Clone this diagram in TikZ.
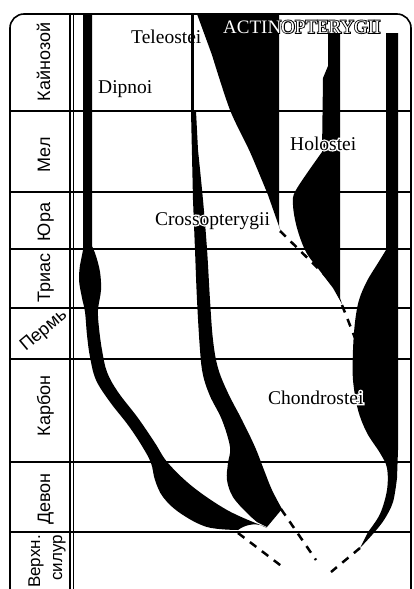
\documentclass[tikz,border=0pt]{standalone}
\usepackage{fontspec}
\setmainfont{Liberation Serif}
\newfontfamily\erafont{Liberation Sans}
\newfontfamily\halofont{Liberation Serif}[FakeBold=14]
\newfontfamily\rimfont{Liberation Serif}[FakeBold=9]
\usepackage{xcolor}
\usepackage{tikz}

\tikzset{
  grid line/.style={black, line width=1.6pt},
  lineage/.style={black, line width=2.5pt, dash pattern=on 8pt off 7pt},
  era/.style={font=\erafont\fontsize{18}{20}\selectfont, inner sep=0pt},
  taxname/.style={font=\fontsize{19.5}{22}\selectfont, anchor=base west, inner sep=0pt},
  halo/.style={taxname, text=white, font=\halofont\fontsize{19.5}{22}\selectfont},
}

\begin{document}
\begin{tikzpicture}[x=1pt, y=-1pt]
\fill[white] (0,0) rectangle (414,589);
\useasboundingbox (0,0) rectangle (414,589);

\coordinate (teleo tip) at (280,231);
\coordinate (holo side) at (331,281);
\coordinate (holo tip) at (342,305);
\coordinate (chondro side) at (355,338);
\coordinate (chondro tail) at (360,548);
\coordinate (cross side) at (281,509);
\coordinate (dipno base) at (238,533);
\coordinate (root a) at (284,568);
\coordinate (root b) at (316,560);
\coordinate (root c) at (331,572);

% time scale
\foreach \y in {111,192,249,308,359,462,532}{
    \draw[grid line] (10,\y) -- (411,\y);
}
\draw[grid line, rounded corners=14pt] (10,589) -- (10,14) -- (411,14) -- (411,589);
\draw[line width=1.2pt] (70,14) -- (70,589);
\draw[line width=1pt] (73,14) -- (73,589);

\node[era, rotate=90, anchor=base] (kainozoi) at (50,62) {Кайнозой};
\node[era, rotate=90, anchor=base] (mel) at (50,155) {Мел};
\node[era, rotate=90, anchor=base] (jura) at (50,222) {Юра};
\node[era, rotate=90, anchor=base] (trias) at (50,278) {Триас};
\node[era, rotate=40] (perm) at (44,331) {Пермь};
\node[era, rotate=90, anchor=base] (karbon) at (50,406) {Карбон};
\node[era, rotate=90, anchor=base] (devon) at (50,499) {Девон};
\node[era, font=\erafont\fontsize{17}{19}\selectfont, rotate=90, anchor=base east] (silur a) at (40,535) {Верхн.};
\node[era, font=\erafont\fontsize{17}{19}\selectfont, rotate=90, anchor=base east] (silur b) at (62,535) {силур};

% Dipnoi
\fill (83,14) -- (83,250) -- plot[smooth, tension=0.6] coordinates {(80,265) (79,280) (82,298) (85,312) (87,335) (90,357) (96,380) (110,402) (128,425) (142,446) (151,463) (155,480) (163,497) (180,513) (207,527) (238,530)}
    .. controls (246,524) and (258,522) .. (267,528)
    -- plot[smooth, tension=0.6] coordinates {(258,524) (227,510) (193,487) (168,463) (155,443) (138,418) (118,392) (107,372) (102,350) (99,328) (98,310) (101,290) (100,272) (96,256) (92,246)}
    -- (92,14) -- cycle;

% Crossopterygii
\draw[line width=3pt] (192,14) -- (192,112);
\fill (191,111) -- (196,111) -- plot[smooth, tension=0.6] coordinates {(198,150) (203,200) (207,249) (210,300) (213,340) (218,368) (228,393) (242,420) (255,447) (264,470) (272,490) (282,509)}
    -- (267,527) -- plot[smooth, tension=0.6] coordinates {(257,522) (247,513) (233,497) (227,480) (228,463) (230,447) (222,420) (210,396) (203,375) (200,350) (197,300) (195,250) (193,200)}
    -- cycle;

% Teleostei
\fill (197,14) -- (279,14) -- (279,226) -- (281,232) -- plot[smooth, tension=0.5] coordinates {(268,195) (250,152) (230,110) (212,55)} -- cycle;

% Holostei
\fill (328,33) -- (340,33) -- (340,298) -- (342,304) -- plot[smooth, tension=0.55] coordinates {(333,288) (320,271) (306,252) (297,228) (293,205) (296,190) (322,152)} -- (323,78) -- (328,66) -- cycle;

% Chondrostei
\fill (386,33) -- (398,33) -- (398,450) -- plot[smooth, tension=0.55] coordinates {(397,478) (393,502) (384,520) (372,535) (360,548)}
    -- plot[smooth, tension=0.55] coordinates {(368,532) (380,514) (387,490) (387,468) (380,453) (367,433) (358,410) (353,380) (353,350) (355,322) (359,300) (367,281) (378,263) (386,250)}
    -- cycle;

\draw[lineage] (teleo tip) -- (holo side);
\draw[lineage] (holo tip) -- (chondro side);
\draw[lineage] (dipno base) -- (root a);
\draw[lineage] (cross side) -- (root b);
\draw[lineage] (chondro tail) -- (root c);

\node[taxname] (teleostei) at (131,43) {Teleostei};
\node[taxname] (dipnoi) at (98,93) {Dipnoi};
\node[halo] (holostei halo) at (290,150) {Holostei};
\node[taxname] (holostei) at (290,150) {Holostei};
\node[halo] (crosso halo) at (155,225) {Crossopterygii};
\node[taxname] (crosso) at (155,225) {Crossopterygii};
\node[halo] (chondro halo) at (268,404) {Chondrostei};
\node[taxname] (chondro) at (268,404) {Chondrostei};
\node[taxname, font=\rimfont\fontsize{19}{22}\selectfont] (actino rim) at (223,33) {ACTINOPTERYGII};
\node[taxname, font=\fontsize{19}{22}\selectfont, text=white] (actino) at (223,33) {ACTINOPTERYGII};
\end{tikzpicture}
\end{document}
